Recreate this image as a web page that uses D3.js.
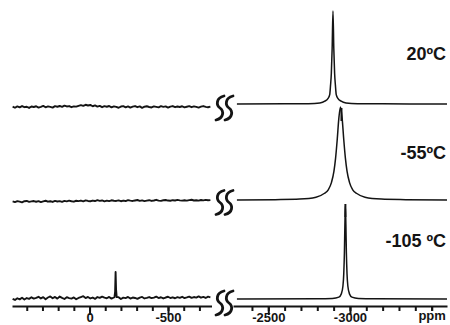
<!DOCTYPE html>
<html><head><meta charset="utf-8">
<script src="https://cdn.jsdelivr.net/npm/d3@7"></script>
<style>html,body{margin:0;padding:0;background:#fff;}svg{display:block;}</style>
</head><body>
<script>
// ---------- data ----------
const temps = ["20ºC", "-55ºC", "-105 ºC"];
const leftTicksMinor = [400,300,200,100,0,-100,-200,-300,-400,-500,-600,-700];
const leftTicksMajor = [0,-500];
const rightTicksMinor = [-2400,-2500,-2600,-2700,-2800,-2900,-3000,-3100,-3200,-3300,-3400,-3500];
const rightTicksMajor = [-2500,-3000,-3500];
const rightTickLabels = ["-2500","-3000","ppm"];
const leftPpmStart = 490, leftPpmStep = -15;
// left (0 ppm region) noise (normalised intensity)
const noise20 = [0.004,-0.008,0.006,-0.004,0.010,-0.002,0.003,-0.010,0.005,0.000,
  0.008,-0.006,0.002,0.012,-0.003,0.006,0.001,-0.007,0.009,0.003,
  0.011,0.002,0.015,0.006,0.010,-0.002,0.007,0.004,0.013,0.020,
  0.012,0.024,0.016,0.022,0.008,0.017,0.004,0.012,-0.002,0.009,
  0.003,0.011,-0.004,0.006,0.001,-0.008,0.005,0.009,-0.003,0.007,
  -0.006,0.004,0.010,-0.002,0.006,-0.009,0.003,0.008,0.000,-0.005,
  0.007,0.002,-0.004,0.009,0.001,0.006,-0.007,0.004,0.010,-0.002,
  0.005,0.000,0.008,-0.004,0.003,0.009,-0.002,0.006,0.001,-0.006,
  0.004,0.010,0.002,-0.003,0.005];
const noise55 = [0.002,-0.006,0.004,-0.002,-0.009,0.003,0.006,-0.004,0.001,0.005,
  -0.003,0.004,-0.006,0.002,0.008,-0.002,0.003,-0.005,0.006,0.000,
  0.004,-0.004,0.007,0.001,0.009,0.003,-0.002,0.008,0.004,0.010,
  0.002,0.012,0.006,0.003,0.010,0.005,0.014,0.007,0.011,0.002,
  0.009,0.004,0.013,0.008,0.006,0.012,0.003,0.010,0.005,0.015,
  0.009,0.006,0.011,0.016,0.007,0.012,0.004,0.010,0.014,0.006,
  0.011,0.018,0.009,0.007,0.013,0.016,0.010,0.008,0.014,0.011,
  0.017,0.012,0.009,0.013,0.010,0.015,0.019,0.011,0.014,0.009,
  0.016,0.012,0.018,0.013,0.015];
const noise105 = [0.002,-0.010,0.008,-0.004,0.014,-0.006,0.010,0.001,0.018,0.004,
  0.012,0.024,0.006,0.020,-0.002,0.016,0.028,0.008,0.022,0.004,
  0.026,0.012,0.000,0.020,0.010,0.004,0.017,-0.002,0.011,0.021,
  0.030,0.010,0.022,0.006,0.016,0.001,0.021,0.012,0.026,0.014,
  0.008,0.022,0.004,0.016,0.011,0.020,0.000,0.015,0.010,0.022,
  0.005,0.016,0.011,0.001,0.015,0.022,0.006,0.012,0.021,0.009,
  0.015,0.026,0.010,0.019,0.006,0.016,0.024,0.011,0.018,0.008,
  0.020,0.013,0.024,0.010,0.017,0.026,0.012,0.021,0.015,0.028,
  0.014,0.022,0.011,0.025,0.018];
const leftPeak105 = [[-159,0.02],[-163,0.08],[-166,0.29],[-169,0.1],[-173,0.02]];
// right (-3000 ppm region) spectra: [ppm, normalised intensity]
const spec20 = [[-2308,0],[-2600,0.002],[-2746,0.004],[-2816,0.012],[-2846,0.03],[-2866,0.06],[-2876,0.1],[-2881,0.2],[-2886,0.33],[-2891,0.6],[-2896,1.0],[-2901,0.6],[-2906,0.33],[-2911,0.2],[-2916,0.1],[-2926,0.06],[-2946,0.03],[-2976,0.012],[-3046,0.004],[-3200,0.002],[-3594,0]];
const spec55 = [[-2308,0],[-2542,0.004],[-2692,0.01],[-2792,0.03],[-2842,0.07],[-2867,0.11],[-2887,0.19],[-2902,0.31],[-2912,0.45],[-2922,0.65],[-2932,0.88],[-2942,1.0],[-2952,0.88],[-2962,0.65],[-2972,0.45],[-2982,0.31],[-2997,0.19],[-3017,0.11],[-3042,0.07],[-3092,0.03],[-3192,0.01],[-3342,0.004],[-3594,0]];
const spec105 = [[-2308,0],[-2800,0.002],[-2892,0.006],[-2932,0.02],[-2947,0.055],[-2957,0.14],[-2962,0.27],[-2966,0.5],[-2969,0.8],[-2972,1.0],[-2975,0.8],[-2978,0.5],[-2982,0.27],[-2987,0.14],[-2997,0.055],[-3012,0.02],[-3052,0.006],[-3150,0.002],[-3594,0]];
const markerPpm = [-2948, -2972, null];

// ---------- layout ----------
const W = 450, H = 325;
const axisY = 306;
const baseR = [104, 200, 299];
const baseL = [107, 201.5, 299];
const labelY = [60, 159, 247];
const font = "'Liberation Sans', Arial, Helvetica, sans-serif";
const ink = "#141414";

const svg = d3.select("body").append("svg").attr("width", W).attr("height", H);

const xL = d3.scaleLinear().domain([494, -777]).range([12, 211.5]);
const xR = d3.scaleLinear().domain([-2284, -3594]).range([233, 447]);
const amp = d3.scaleLinear().domain([0, 1]).range([0, -93]);

const leftData = [noise20, noise55, noise105].map((arr, k) => {
  let pts = arr.map((v, i) => [leftPpmStart + i * leftPpmStep, v]);
  if (k === 2) {
    pts = pts.filter(p => p[0] > -156 || p[0] < -176).concat(leftPeak105);
    pts.sort((a, b) => b[0] - a[0]);
  }
  return pts.filter(p => p[0] >= -770);
});
const rightData = [spec20, spec55, spec105];

// traces
leftData.forEach((pts, k) => {
  const line = d3.line().x(d => xL(d[0])).y(d => baseL[k] + amp(d[1]));
  svg.append("path").attr("d", line(pts)).attr("fill", "none")
    .attr("stroke", ink).attr("stroke-width", 1.9).attr("stroke-linejoin", "round");
});
rightData.forEach((pts, k) => {
  const line = d3.line().x(d => xR(d[0])).y(d => baseR[k] + amp(d[1])).curve(d3.curveMonotoneX);
  svg.append("path").attr("d", line(pts)).attr("fill", "none")
    .attr("stroke", ink).attr("stroke-width", 1.5).attr("stroke-linejoin", "round");
});

// markers under peaks
markerPpm.forEach((p, k) => {
  if (p === null) return;
  svg.append("line").attr("x1", xR(p)).attr("x2", xR(p))
    .attr("y1", baseR[k] + 4).attr("y2", baseR[k] + 17)
    .attr("stroke", ink).attr("stroke-width", 2);
});

// break symbols
function sPath(cx, cy) {
  return `M${cx+4},${cy-12} C${cx-4},${cy-10} ${cx-4},${cy-3} ${cx},${cy} C${cx+4},${cy+3} ${cx+4},${cy+10} ${cx-4},${cy+12}`;
}
[0,1,2].forEach(k => {
  const cy = (k === 2 ? 303 : baseL[k] + 1);
  [220, 229].forEach(cx => {
    svg.append("path").attr("d", sPath(cx, cy)).attr("fill", "none")
      .attr("stroke", ink).attr("stroke-width", 2.8).attr("stroke-linecap", "round");
  });
});

// temperature labels
temps.forEach((t, k) => {
  svg.append("text").attr("x", 446).attr("y", labelY[k]).attr("text-anchor", "end")
    .attr("font-family", font).attr("font-weight", "bold").attr("font-size", 18)
    .attr("fill", ink).text(t);
});

// axes
function drawAxis(scale, minor, major, fmt) {
  const gMin = svg.append("g").attr("transform", `translate(0,${axisY})`)
    .call(d3.axisBottom(scale).tickValues(minor).tickSize(5).tickSizeOuter(0).tickFormat(""));
  gMin.select(".domain").attr("stroke", ink).attr("stroke-width", 2);
  gMin.selectAll(".tick line").attr("stroke", ink).attr("stroke-width", 2);
  const gMaj = svg.append("g").attr("transform", `translate(0,${axisY})`)
    .call(d3.axisBottom(scale).tickValues(major).tickSize(9).tickSizeOuter(0).tickPadding(1).tickFormat(fmt));
  gMaj.select(".domain").remove();
  gMaj.selectAll(".tick line").attr("stroke", ink).attr("stroke-width", 2);
  gMaj.selectAll(".tick text").attr("font-family", font).attr("font-weight", "bold")
    .attr("font-size", 13).attr("fill", ink).attr("dy", null).attr("y", 16);
  return gMaj;
}
drawAxis(xL, leftTicksMinor, leftTicksMajor, d => String(d));
const gR = drawAxis(xR, rightTicksMinor, rightTicksMajor, (d, i) => rightTickLabels[i]);
gR.selectAll(".tick").filter(d => d === -3500).select("line").attr("y2", 5);
gR.selectAll(".tick").filter(d => d === -3500).select("text").attr("y", 14).attr("font-size", 13);
</script>
</body></html>
